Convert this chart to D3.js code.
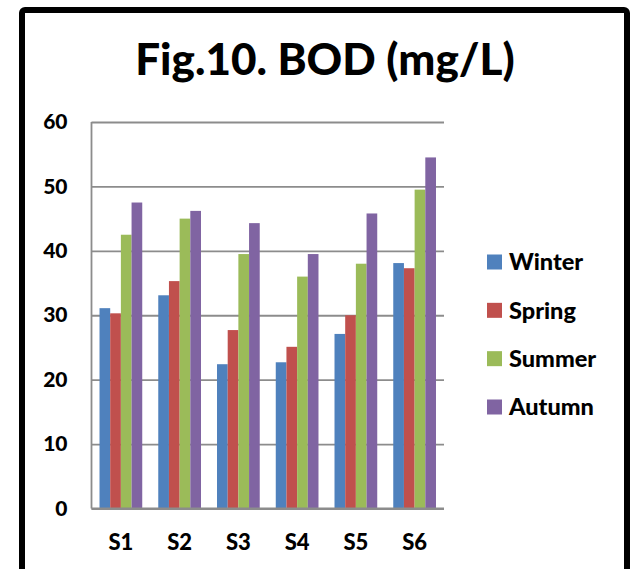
<!DOCTYPE html>
<html><head><meta charset="utf-8">
<script src="https://cdn.jsdelivr.net/npm/d3@7"></script>
<style>html,body{margin:0;padding:0;background:#fff;} svg{display:block;}</style>
</head><body>
<script>
const categories = ["S1","S2","S3","S4","S5","S6"];
const seriesNames = ["Winter","Spring","Summer","Autumn"];
const winter = [31.1, 33.1, 22.4, 22.7, 27.1, 38.1];
const spring = [30.3, 35.3, 27.7, 25.1, 30.0, 37.3];
const summer = [42.5, 45.0, 39.5, 36.0, 38.0, 49.5];
const autumn = [47.5, 46.2, 44.3, 39.5, 45.8, 54.5];
const yTicks = [0, 10, 20, 30, 40, 50, 60];
const colors = ["#4F81BD", "#C0504D", "#9BBB59", "#8064A2"];
const title = "Fig.10. BOD (mg/L)";

const series = [winter, spring, summer, autumn];
const W = 634, H = 569;
const font = "Lato, 'Open Sans', sans-serif";
const svg = d3.select("body").append("svg").attr("width", W).attr("height", H);

svg.append("rect").attr("x",22).attr("y",10).attr("width",605).attr("height",640)
  .attr("rx",3).attr("fill","#fff").attr("stroke","#000").attr("stroke-width",6);

svg.append("text").attr("x",325).attr("y",75).attr("text-anchor","middle")
  .attr("font-family",font).attr("font-weight",900).attr("font-size",44)
  .attr("fill","#000").text(title);

const plot = {left: 91.5, right: 444, top: 122, bottom: 508.5};
const x = d3.scaleBand().domain(categories).range([plot.left, plot.right]).paddingInner(0.2727).paddingOuter(0.1364);
const xs = d3.scaleBand().domain(seriesNames).range([0, x.bandwidth()]);
const y = d3.scaleLinear().domain([0,60]).range([plot.bottom, plot.top]);

// gridlines
const gAxis = svg.append("g").attr("transform", `translate(${plot.left},0)`)
  .call(d3.axisLeft(y).tickValues(yTicks).tickSize(-(plot.right-plot.left)).tickFormat(d3.format("d")).tickPadding(24));
gAxis.select(".domain").remove();
gAxis.selectAll(".tick line").attr("stroke","#8c8c8c").attr("stroke-width",1.8);
gAxis.selectAll(".tick text").attr("font-family",font).attr("font-weight",900)
  .attr("font-size",21).attr("fill","#000");

// bars
const groups = svg.append("g").selectAll("g").data(categories).join("g")
  .attr("transform", d => `translate(${x(d)},0)`);
groups.selectAll("rect").data((c,i) => seriesNames.map((s,j) => ({s, v: series[j][i], j})))
  .join("rect")
  .attr("x", d => xs(d.s)).attr("width", xs.bandwidth())
  .attr("y", d => y(d.v)).attr("height", d => y(0) - y(d.v))
  .attr("fill", d => colors[d.j]);

// axis lines
svg.append("line").attr("x1",plot.left).attr("x2",plot.left).attr("y1",plot.top).attr("y2",plot.bottom)
  .attr("stroke","#8c8c8c").attr("stroke-width",1.8);
svg.append("line").attr("x1",plot.left).attr("x2",plot.right).attr("y1",plot.bottom).attr("y2",plot.bottom)
  .attr("stroke","#8c8c8c").attr("stroke-width",1.8);

// x labels
const gx = svg.append("g").attr("transform", `translate(0,${plot.bottom})`)
  .call(d3.axisBottom(x).tickSize(0).tickPadding(26));
gx.select(".domain").remove();
gx.selectAll(".tick text").attr("font-family",font).attr("font-weight",900)
  .attr("font-size",22).attr("fill","#000");

// legend
const legY = d3.scalePoint().domain(seriesNames).range([262, 407]);
const leg = svg.append("g").selectAll("g").data(seriesNames).join("g")
  .attr("transform", d => `translate(487,${legY(d)})`);
leg.append("rect").attr("x",0).attr("y",-7.5).attr("width",15).attr("height",15)
  .attr("fill", (d,i) => colors[i]);
leg.append("text").attr("x",22).attr("y",0).attr("dy","0.36em")
  .attr("font-family",font).attr("font-weight",900).attr("font-size",23.5)
  .attr("fill","#000").text(d => d);
</script>
</body></html>
